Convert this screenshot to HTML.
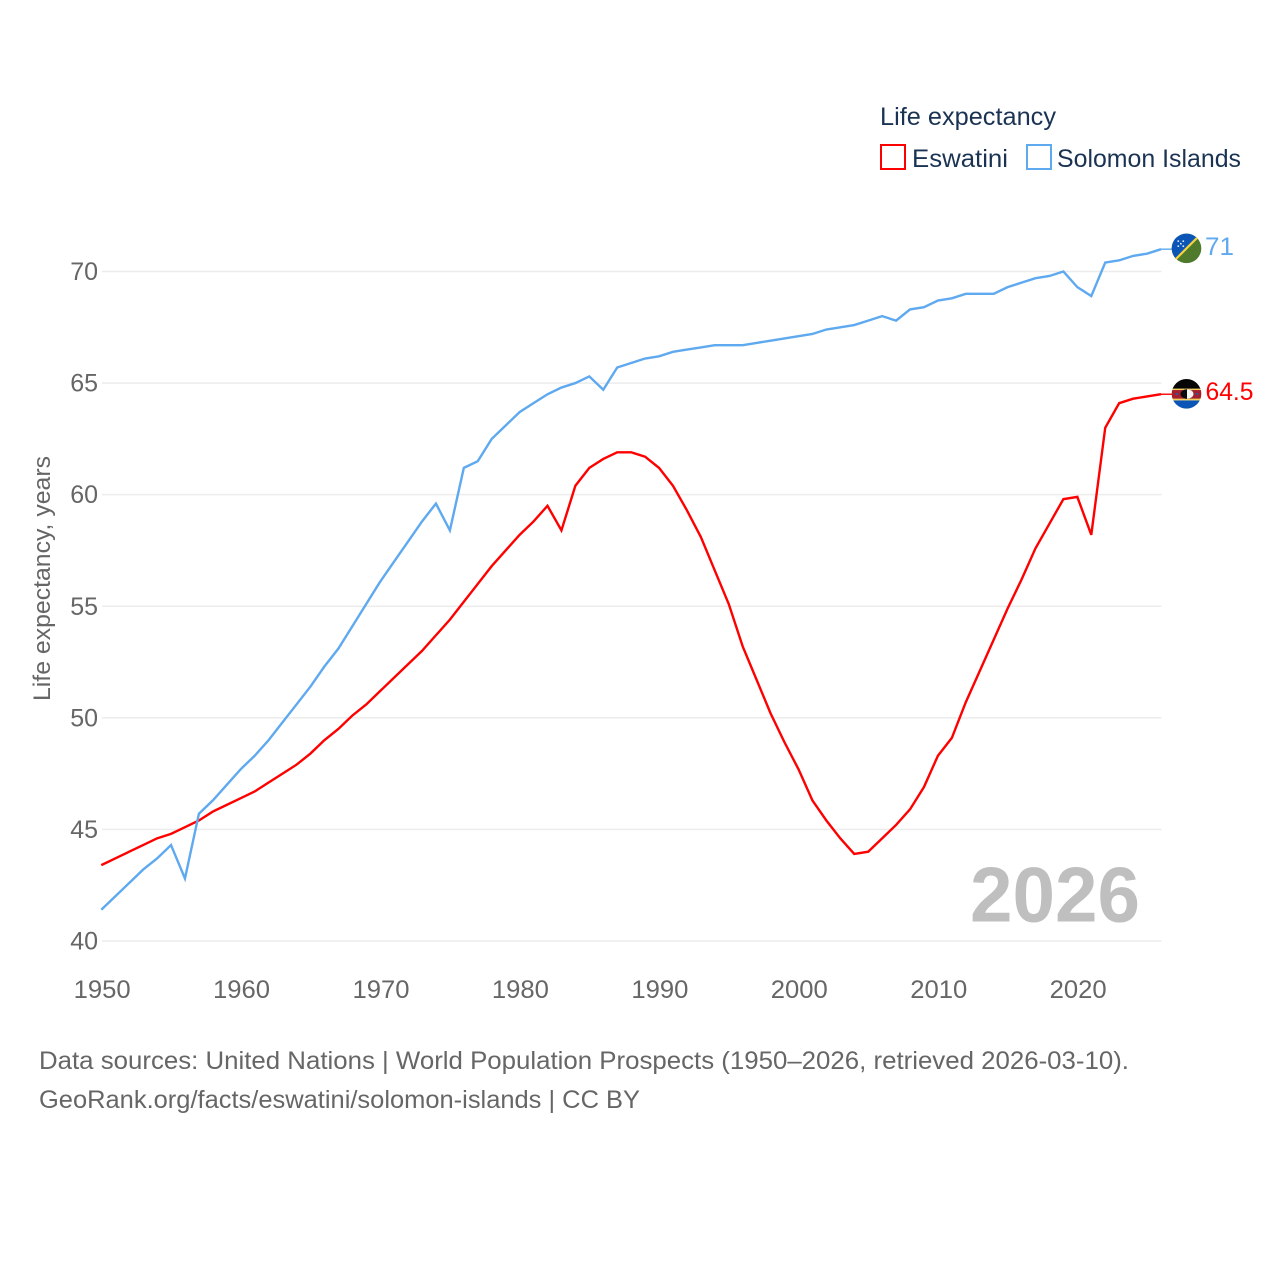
<!DOCTYPE html>
<html lang="en">
<head>
<meta charset="utf-8">
<title>Life expectancy: Eswatini and Solomon Islands</title>
<style>
html,body{margin:0;padding:0;background:#fff;}
svg{display:block;font-family:"Liberation Sans",sans-serif;}
</style>
</head>
<body>
<svg id="chart" width="1280" height="1280" viewBox="0 0 1280 1280" xmlns="http://www.w3.org/2000/svg">
<defs>
<clipPath id="flag-clip"><circle cx="0" cy="0" r="14.8"></circle></clipPath>
</defs>
<rect width="1280" height="1280" fill="#ffffff"></rect>
<g id="grid"></g>
<g id="y-ticks"></g>
<g id="x-ticks"></g>
<text transform="translate(50,701) rotate(-90)" font-size="24" fill="#666666" textLength="245" lengthAdjust="spacingAndGlyphs">Life expectancy, years</text>
<text x="970" y="921.5" font-size="78" font-weight="700" fill="#bfbfbf" textLength="170" lengthAdjust="spacingAndGlyphs">2026</text>
<g id="series"></g>
<g>
<text x="880" y="125" font-size="25" fill="#1a3353" textLength="176" lengthAdjust="spacingAndGlyphs">Life expectancy</text>
<rect x="881" y="145" width="24" height="24" fill="#ffffff" stroke="#ff0000" stroke-width="2"></rect>
<text x="912" y="167" font-size="25" fill="#1a3353" textLength="96" lengthAdjust="spacingAndGlyphs">Eswatini</text>
<rect x="1027" y="145" width="24" height="24" fill="#ffffff" stroke="#5ea9ef" stroke-width="2"></rect>
<text x="1057" y="167" font-size="25" fill="#1a3353" textLength="184" lengthAdjust="spacingAndGlyphs">Solomon Islands</text>
</g>
<g id="end-marks"></g>
<text x="39" y="1069" font-size="25" fill="#666666" textLength="1090" lengthAdjust="spacingAndGlyphs">Data sources: United Nations | World Population Prospects (1950–2026, retrieved 2026-03-10).</text>
<text x="39" y="1108" font-size="25" fill="#666666" textLength="601" lengthAdjust="spacingAndGlyphs">GeoRank.org/facts/eswatini/solomon-islands | CC BY</text>
</svg>
<script>
const startYear = 1950;
const yTickValues = [40, 45, 50, 55, 60, 65, 70];
const xTickValues = [1950, 1960, 1970, 1980, 1990, 2000, 2010, 2020];
const eswatiniValues = [43.4,43.7,44.0,44.3,44.6,44.8,45.1,45.4,45.8,46.1,46.4,46.7,47.1,47.5,47.9,48.4,49.0,49.5,50.1,50.6,51.2,51.8,52.4,53.0,53.7,54.4,55.2,56.0,56.8,57.5,58.2,58.8,59.5,58.4,60.4,61.2,61.6,61.9,61.9,61.7,61.2,60.4,59.3,58.1,56.6,55.1,53.2,51.7,50.2,48.9,47.7,46.3,45.4,44.6,43.9,44.0,44.6,45.2,45.9,46.9,48.3,49.1,50.7,52.1,53.5,54.9,56.2,57.6,58.7,59.8,59.9,58.2,63.0,64.1,64.3,64.4,64.5];
const solomonValues = [41.4,42.0,42.6,43.2,43.7,44.3,42.8,45.7,46.3,47.0,47.7,48.3,49.0,49.8,50.6,51.4,52.3,53.1,54.1,55.1,56.1,57.0,57.9,58.8,59.6,58.4,61.2,61.5,62.5,63.1,63.7,64.1,64.5,64.8,65.0,65.3,64.7,65.7,65.9,66.1,66.2,66.4,66.5,66.6,66.7,66.7,66.7,66.8,66.9,67.0,67.1,67.2,67.4,67.5,67.6,67.8,68.0,67.8,68.3,68.4,68.7,68.8,69.0,69.0,69.0,69.3,69.5,69.7,69.8,70.0,69.3,68.9,70.4,70.5,70.7,70.8,71.0];

const NS = 'http://www.w3.org/2000/svg';
function xScale(year) { return 101.3 + (year - 1950) * (1161 - 101.3) / 76; }
function yScale(value) { return 941 - (value - 40) * (941 - 271.5) / 30; }
function make(tag, attrs, parent) {
  const el = document.createElementNS(NS, tag);
  for (const k in attrs) el.setAttribute(k, attrs[k]);
  if (parent) parent.appendChild(el);
  return el;
}

const gridG = document.getElementById('grid');
const yG = document.getElementById('y-ticks');
const xG = document.getElementById('x-ticks');
yTickValues.forEach(function (v) {
  const line = make('line', {x1: 102, x2: 1161.5, y1: yScale(v), y2: yScale(v), stroke: '#ececec', 'stroke-width': 1.5}, gridG);
  
  
  const t = make('text', {x: 98, y: yScale(v) + 8.5, 'text-anchor': 'end', 'font-size': 25, fill: '#666666'}, yG);
  
  
  t.textContent = v;
});
xTickValues.forEach(function (v) {
  const t = make('text', {x: xScale(v) + 0.8, y: 998, 'text-anchor': 'middle', 'font-size': 25, fill: '#666666', textLength: 57, lengthAdjust: 'spacingAndGlyphs'}, xG);
  
  
  t.textContent = v;
});

function pathFor(values) {
  return values.map(function (v, i) {
    return (i ? 'L' : 'M') + xScale(startYear + i).toFixed(2) + ' ' + yScale(v).toFixed(2);
  }).join(' ');
}
const seriesG = document.getElementById('series');
const eswatiniLine = make('path', {d: pathFor(eswatiniValues), fill: 'none', stroke: '#ff0000', 'stroke-width': 2.4, 'stroke-linejoin': 'miter'}, seriesG);


const solomonLine = make('path', {d: pathFor(solomonValues), fill: 'none', stroke: '#5ea9ef', 'stroke-width': 2.4, 'stroke-linejoin': 'miter'}, seriesG);



const endG = document.getElementById('end-marks');
function lastOf(values) { return values[values.length - 1]; }
function endX(values) { return xScale(startYear + values.length - 1); }

/* Solomon Islands end marker */
const solY = yScale(lastOf(solomonValues));
const solStub = make('line', {x1: endX(solomonValues), x2: 1173, y1: solY, y2: solY, stroke: '#5ea9ef', 'stroke-width': 1.4}, endG);


const solFlag = make('g', {transform: 'translate(1186.5,' + (solY - 0.8) + ')', 'clip-path': 'url(#flag-clip)'}, endG);


make('rect', {x: -16, y: -16, width: 32, height: 32, fill: '#4f7a2c'}, solFlag);
make('polygon', {points: '-16,-16 16,-16 -16,16', fill: '#0a55b5'}, solFlag);
make('line', {x1: -16, y1: 16, x2: 16, y2: -16, stroke: '#f5d33a', 'stroke-width': 2.2}, solFlag);
[[-9,-8],[-4,-8],[-9,-3],[-4,-3],[-6.5,-5.5]].forEach(function (p) {
  const star = make('rect', {x: p[0], y: p[1], width: 1.6, height: 1.6, fill: '#dfe9f7'}, solFlag);
  
  
});
const solLabel = make('text', {x: 1205, y: solY + 6, 'font-size': 25, fill: '#5ea9ef', textLength: 29, lengthAdjust: 'spacingAndGlyphs'}, endG);


solLabel.textContent = lastOf(solomonValues);

/* Eswatini end marker */
const eswY = yScale(lastOf(eswatiniValues));
const eswStub = make('line', {x1: endX(eswatiniValues), x2: 1173, y1: eswY, y2: eswY, stroke: '#ff0000', 'stroke-width': 1.4}, endG);


const eswFlag = make('g', {transform: 'translate(1186.5,' + (eswY - 0.4) + ')', 'clip-path': 'url(#flag-clip)'}, endG);


make('rect', {x: -16, y: -16, width: 32, height: 11, fill: '#060606'}, eswFlag);
make('rect', {x: -16, y: 6.5, width: 32, height: 10, fill: '#0a55b5'}, eswFlag);
make('rect', {x: -16, y: -5.2, width: 32, height: 11.7, fill: '#f1cf5a'}, eswFlag);
make('rect', {x: -16, y: -3.8, width: 32, height: 8.6, fill: '#a5202f'}, eswFlag);
make('ellipse', {cx: 0.5, cy: 0.2, rx: 6.5, ry: 4.8, fill: '#0a0a0a'}, eswFlag);
make('path', {d: 'M0.5 -4.6 A6.5 4.8 0 0 1 0.5 5 Z', fill: '#f4f4f4'}, eswFlag);
make('rect', {x: -11, y: -0.6, width: 2.8, height: 1.6, fill: '#2a59a8'}, eswFlag);
make('rect', {x: 9, y: -0.6, width: 2.8, height: 1.6, fill: '#2a59a8'}, eswFlag);
const eswLabel = make('text', {x: 1205.5, y: eswY + 6, 'font-size': 25, fill: '#ff0000', textLength: 48, lengthAdjust: 'spacingAndGlyphs'}, endG);


eswLabel.textContent = lastOf(eswatiniValues);
</script>
</body>
</html>
